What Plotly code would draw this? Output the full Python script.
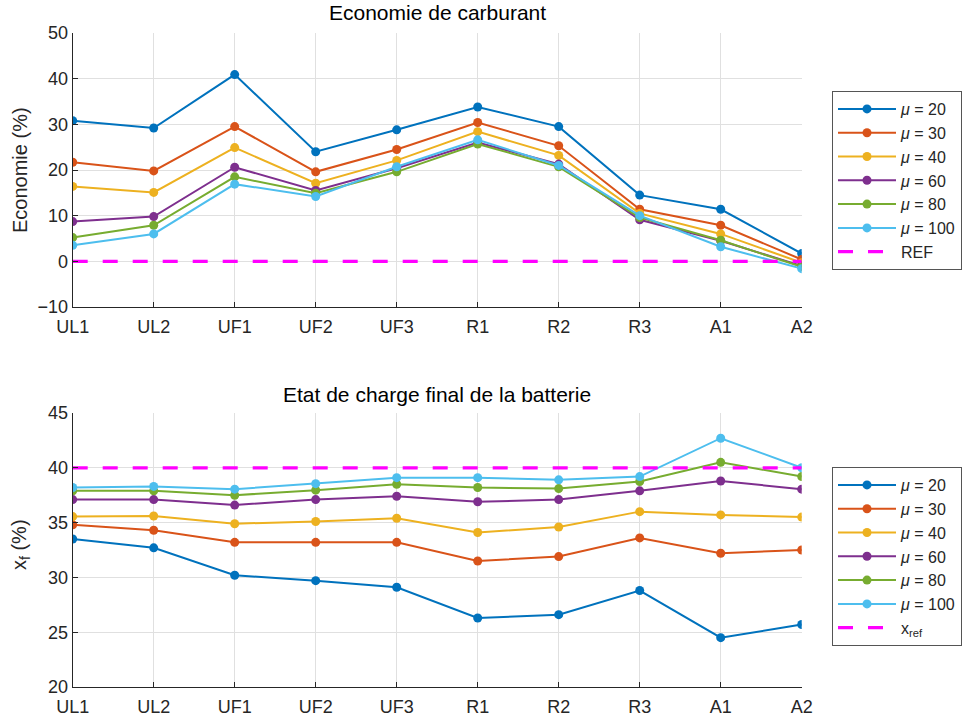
import plotly.graph_objects as go

categories = ["UL1", "UL2", "UF1", "UF2", "UF3", "R1", "R2", "R3", "A1", "A2"]
mu_labels = ["20", "30", "40", "60", "80", "100"]

eco_mu20 = [30.8, 29.2, 40.9, 24.0, 28.8, 33.8, 29.5, 14.5, 11.4, 1.7]
eco_mu30 = [21.7, 19.8, 29.5, 19.6, 24.5, 30.4, 25.3, 11.4, 7.9, 0.4]
eco_mu40 = [16.4, 15.1, 24.9, 17.1, 22.1, 28.4, 23.2, 10.5, 6.0, -0.3]
eco_mu60 = [8.7, 9.8, 20.6, 15.5, 20.4, 26.0, 21.3, 9.1, 4.5, -1.0]
eco_mu80 = [5.2, 7.9, 18.5, 14.9, 19.6, 25.7, 20.7, 9.6, 4.6, -1.2]
eco_mu100 = [3.5, 6.0, 16.9, 14.2, 20.7, 26.6, 21.0, 10.0, 3.2, -1.6]
eco_ref = [0, 0, 0, 0, 0, 0, 0, 0, 0, 0]

soc_mu20 = [33.5, 32.7, 30.2, 29.7, 29.1, 26.3, 26.6, 28.8, 24.5, 25.7]
soc_mu30 = [34.8, 34.3, 33.2, 33.2, 33.2, 31.5, 31.9, 33.6, 32.2, 32.5]
soc_mu40 = [35.55, 35.6, 34.9, 35.1, 35.4, 34.1, 34.6, 36.0, 35.7, 35.5]
soc_mu60 = [37.1, 37.1, 36.6, 37.1, 37.4, 36.9, 37.1, 37.9, 38.8, 38.05]
soc_mu80 = [37.9, 37.9, 37.5, 37.96, 38.5, 38.2, 38.1, 38.75, 40.5, 39.2]
soc_mu100 = [38.2, 38.3, 38.05, 38.55, 39.1, 39.1, 38.9, 39.2, 42.7, 40.0]
soc_ref = [40, 40, 40, 40, 40, 40, 40, 40, 40, 40]

eco_series = [eco_mu20, eco_mu30, eco_mu40, eco_mu60, eco_mu80, eco_mu100]
soc_series = [soc_mu20, soc_mu30, soc_mu40, soc_mu60, soc_mu80, soc_mu100]
colors = ["#0072BD", "#D95319", "#EDB120", "#7E2F8E", "#77AC30", "#4DBEEE"]

FONT = "Liberation Sans, Arial, Helvetica, sans-serif"
AX = "#262626"
GRID = "#e0e0e0"

fig = go.Figure()

for vals, lab, c in zip(eco_series, mu_labels, colors):
    fig.add_trace(go.Scatter(x=categories, y=vals, mode="lines+markers",
                             name=f"<i>μ</i> = {lab}", line=dict(color=c, width=2),
                             marker=dict(size=9, color=c), xaxis="x", yaxis="y",
                             legend="legend"))
fig.add_trace(go.Scatter(x=categories, y=eco_ref, mode="lines", name="REF",
                         line=dict(color="#FF00FF", width=3.2, dash="15px,15px"),
                         xaxis="x", yaxis="y", legend="legend"))

for vals, lab, c in zip(soc_series, mu_labels, colors):
    fig.add_trace(go.Scatter(x=categories, y=vals, mode="lines+markers",
                             name=f"<i>μ</i> = {lab}", line=dict(color=c, width=2),
                             marker=dict(size=9, color=c), xaxis="x2", yaxis="y2",
                             legend="legend2"))
fig.add_trace(go.Scatter(x=categories, y=soc_ref, mode="lines", name="x<sub>ref</sub>",
                         line=dict(color="#FF00FF", width=3.2, dash="15px,15px"),
                         xaxis="x2", yaxis="y2", legend="legend2"))

xd = [72.7 / 971, 801.7 / 971]
common_x = dict(type="category", range=[0, 9], showgrid=True, gridcolor=GRID,
                showline=True, linecolor=AX, linewidth=1, ticks="inside",
                ticklen=5, tickcolor=AX, tickfont=dict(size=18, color=AX, family=FONT),
                zeroline=False, mirror=False, automargin=False, ticklabelstandoff=3)
common_y = dict(showgrid=True, gridcolor=GRID, showline=True, linecolor=AX,
                linewidth=1, ticks="inside", ticklen=5, tickcolor=AX,
                tickfont=dict(size=18, color=AX, family=FONT), zeroline=False,
                automargin=False)

legend_style = dict(bgcolor="white", bordercolor="#555555", borderwidth=1,
                    font=dict(size=16, color=AX, family=FONT), xanchor="left",
                    yanchor="top", tracegroupgap=0, itemwidth=58)

fig.update_layout(
    width=971, height=718,
    margin=dict(l=0, r=0, t=0, b=0, autoexpand=False),
    paper_bgcolor="white", plot_bgcolor="white",
    font=dict(family=FONT, color=AX),
    xaxis=dict(domain=xd, anchor="y", **common_x),
    yaxis=dict(domain=[1 - 307 / 718, 1 - 33 / 718], anchor="x", range=[-10, 50],
               dtick=10, **common_y),
    xaxis2=dict(domain=xd, anchor="y2", **common_x),
    yaxis2=dict(domain=[1 - 687 / 718, 1 - 413 / 718], anchor="x2", range=[20, 45],
                dtick=5, **common_y),
    legend=dict(x=832 / 971, y=1 - 91 / 718, **legend_style),
    legend2=dict(x=832 / 971, y=1 - 467 / 718, **legend_style),
    showlegend=True,
    annotations=[
        dict(text="Economie de carburant", x=(xd[0] + xd[1]) / 2, y=1 - 13 / 718,
             xref="paper", yref="paper", showarrow=False, yanchor="middle",
             font=dict(size=21, color="black", family=FONT)),
        dict(text="Etat de charge final de la batterie", x=(xd[0] + xd[1]) / 2,
             y=1 - 394 / 718, xref="paper", yref="paper", showarrow=False,
             yanchor="middle", font=dict(size=21, color="black", family=FONT)),
        dict(text="Economie (%)", x=20 / 971, y=1 - 170 / 718, xref="paper",
             yref="paper", showarrow=False, textangle=-90, xanchor="center",
             yanchor="middle", font=dict(size=20, color=AX, family=FONT)),
        dict(text="x<sub>f</sub> (%)", x=20 / 971, y=1 - 545 / 718, xref="paper",
             yref="paper", showarrow=False, textangle=-90, xanchor="center",
             yanchor="middle", font=dict(size=20, color=AX, family=FONT)),
    ],
)

fig.write_html("out.html",
               config={"displayModeBar": False},
               post_script="document.body.style.margin='0';"
                           "document.body.style.padding='0';"
                           "document.documentElement.style.overflow='hidden';")
